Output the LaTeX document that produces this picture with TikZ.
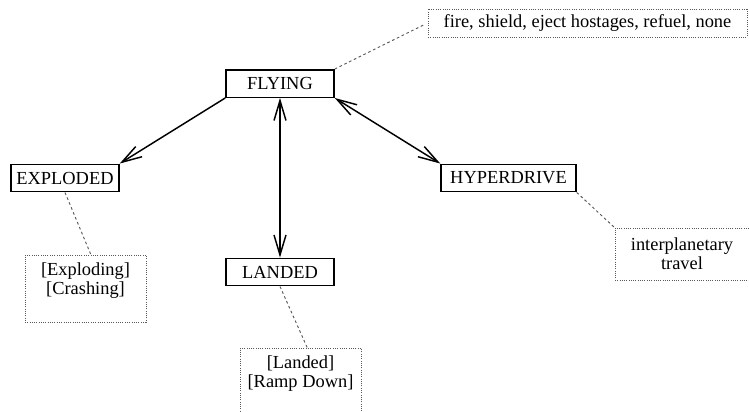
\documentclass[tikz,border=0pt]{standalone}
\usepackage{fontspec}
\setmainfont{Liberation Serif}
\usetikzlibrary{arrows.meta,positioning}

\begin{document}
\begin{tikzpicture}[
  x=0.75pt, y=-0.75pt,
  % State boxes
  state/.style={
    rectangle,
    draw=black,
    line width=1.1pt,
    minimum width=81pt,
    minimum height=20.6pt,
    inner sep=2pt,
    font=\fontsize{13.8}{14.4}\selectfont
  },
  % Comment boxes (dotted frame)
  note/.style={
    rectangle,
    draw=gray!70!black,
    densely dotted,
    line width=0.7pt,
    align=center,
    inner sep=3pt,
    font=\fontsize{13.8}{14.4}\selectfont
  },
  % Connector styles
  link/.style={
    draw=gray!70!black,
    dash pattern=on 2pt off 2pt,
    line width=0.7pt
  },
  trans/.style={
    line width=1.1pt,
    >={Straight Barb[length=15pt, width=9pt]}
  }
]
\useasboundingbox (0,0) rectangle (749,411);

% === STATES ===
\node[state] (flying) at (280,83.5) {FLYING};
\node[state] (exploded) at (65,178) {EXPLODED};
\node[state] (landed) at (280,272) {LANDED};
\node[state, minimum width=101.25pt] (hyper) at (508.5,178) {HYPERDRIVE};

% === NOTES ===
\node[note, minimum width=239.25pt, minimum height=21pt] (actions) at (587.5,23) {fire, shield, eject hostages, refuel, none};
\node[note, minimum width=90.75pt, minimum height=50.25pt] (crashnote) at (85.5,288.5) {[Exploding]\\{}[Crashing]\\{}\mbox{}};
\node[note, minimum width=90.75pt, minimum height=50.25pt] (landnote) at (300.5,381.5) {[Landed]\\{}[Ramp Down]\\{}\mbox{}};
\node[note, minimum width=100.5pt, minimum height=39pt] (travelnote) at (682,254) {interplanetary\\travel};

% === TRANSITIONS ===
\draw[trans, ->] (flying.south west) -- (exploded.north east);
\draw[trans, <->] (flying) -- (landed);
\draw[trans, <->] (flying.south east) -- (hyper.north west);

% === NOTE LINKS ===
\draw[link, shorten >=3pt] (flying.north east) -- (actions.west);
\draw[link] (exploded.south) -- ([xshift=4pt]crashnote.north);
\draw[link] (landed.south) -- ([xshift=5pt]landnote.north);
\draw[link] (hyper.south east) -- (travelnote.north west);

\end{tikzpicture}
\end{document}
